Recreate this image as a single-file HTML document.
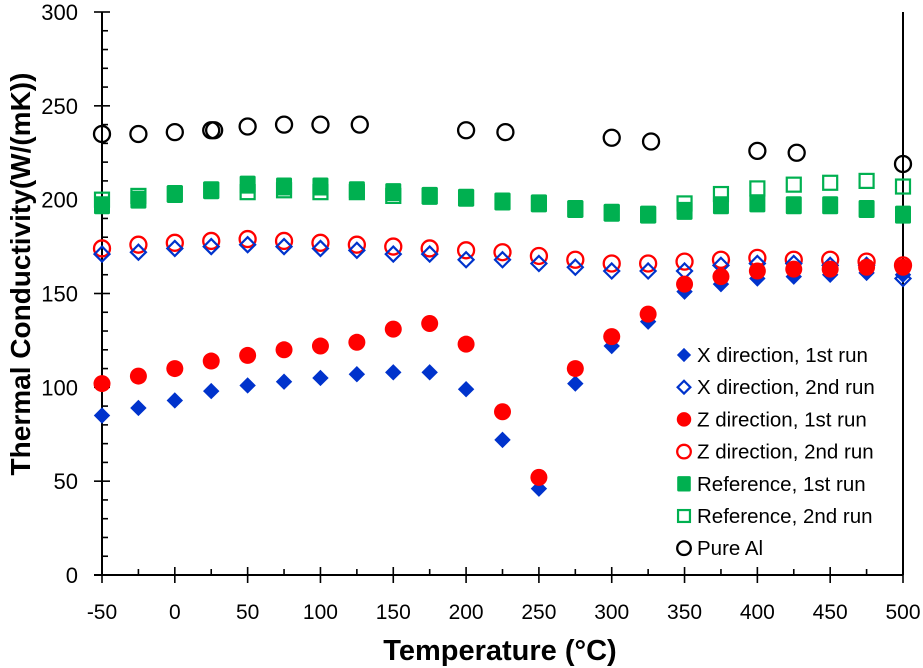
<!DOCTYPE html>
<html><head><meta charset="utf-8"><style>
body{margin:0;background:#fff;}
svg{display:block;font-family:"Liberation Sans",sans-serif;}
</style></head><body>
<svg id="chart" width="923" height="668"></svg>
<script>
const temps=[-50,-25,0,25,50,75,100,125,150,175,200,225,250,275,300,325,350,375,400,425,450,475,500];
const xRun1=[85,89,93,98,101,103,105,107,108,108,99,72,46,102,122,135,151,155,158,159,160,161,160];
const xRun2=[171,172,174,175,176,175,174,173,171,171,168,168,166,164,162,162,162,165,166,166,165,165,158];
const zRun1=[102,106,110,114,117,120,122,124,131,134,123,87,52,110,127,139,155,159,162,163,163,164,164];
const zRun2=[174,176,177,178,179,178,177,176,175,174,173,172,170,168,166,166,167,168,169,168,168,167,165];
const refRun1=[197,200,203,205,208,207,207,205,204,202,201,199,198,195,193,192,194,197,198,197,197,195,192];
const refRun2=[200,202,203,205,204,205,204,204,202,202,201,199,198,195,193,192,198,203,206,208,209,210,207];
const alTemps=[-50,-25,0,25,27,50,75,100,127,200,227,300,327,400,427,500];
const alVals=[235,235,236,237,237,239,240,240,240,237,236,233,231,226,225,219];
const xTicks=[-50,0,50,100,150,200,250,300,350,400,450,500];
const yTicks=[0,50,100,150,200,250,300];
const NS="http://www.w3.org/2000/svg";
const svg=document.getElementById('chart');
const X=v=>102+(v+50)*801/550;
const Y=v=>575-v*563/300;
function mk(t,a,p){const e=document.createElementNS(NS,t);for(const k in a)e.setAttribute(k,a[k]);(p||svg).appendChild(e);return e;}
let ax=mk('line',{x1:102,y1:12,x2:102,y2:575,stroke:'#000','stroke-width':2});


let ax2=mk('line',{x1:94,y1:575,x2:903,y2:575,stroke:'#000','stroke-width':2});


let rb=mk('line',{x1:903,y1:12,x2:903,y2:575,stroke:'#000','stroke-width':2});


for(let v=0;v<=300;v+=10){const y=Y(v);const maj=v%50===0;mk('line',{x1:maj?94:102,y1:y,x2:maj?110:108,y2:y,stroke:'#000','stroke-width':1.6});}
for(let v=-50;v<=500;v+=25){const x=X(v);const maj=v%50===0;mk('line',{x1:x,y1:maj?567:569,x2:x,y2:maj?583:575,stroke:'#000','stroke-width':1.6});}
yTicks.forEach(v=>{const t=mk('text',{x:78,y:Y(v)+8,'text-anchor':'end','font-size':22,fill:'#000'});t.textContent=v;

});
xTicks.forEach(v=>{const t=mk('text',{x:X(v),y:619,'text-anchor':'middle','font-size':21,fill:'#000'});t.textContent=v;

});
let xt=mk('text',{x:500,y:660,'text-anchor':'middle','font-size':29,'font-weight':'bold'});xt.textContent='Temperature (°C)';


let yt=mk('text',{x:0,y:0,'text-anchor':'middle','font-size':28,'font-weight':'bold',transform:'translate(30,274) rotate(-90)'});yt.textContent='Thermal Conductivity(W/(mK))';


function marker(kind,cx,cy,g,sc){sc=sc||1;
 if(kind==='dF'||kind==='dO'){const s=7.5*sc;return mk('polygon',{points:`${cx},${cy-s} ${cx+s},${cy} ${cx},${cy+s} ${cx-s},${cy}`,fill:kind==='dF'?'#0033cc':'none',stroke:'#0033cc','stroke-width':kind==='dF'?1:2.2},g);}
 if(kind==='cF')return mk('circle',{cx,cy,r:8.5*sc,fill:'#ff0000'},g);
 if(kind==='cO')return mk('circle',{cx,cy,r:8*sc,fill:'none',stroke:'#ff0000','stroke-width':2.3},g);
 if(kind==='cK')return mk('circle',{cx,cy,r:8*sc,fill:'none',stroke:'#000','stroke-width':2.3},g);
 if(kind==='sF')return mk('rect',{x:cx-8*sc,y:cy-9*sc,width:16*sc,height:18*sc,rx:1.5,fill:'#00b050'},g);
 if(kind==='sO')return mk('rect',{x:cx-7*sc,y:cy-7*sc,width:14*sc,height:14*sc,fill:'none',stroke:'#00b050','stroke-width':2.2},g);
}
function series(name,kind,xs,ys){const g=mk('g',{});
 xs.forEach((t,i)=>{const m=marker(kind,X(t),Y(ys[i]),g);
 
 });}
series('pure-al','cK',alTemps,alVals);
series('reference-2nd-run','sO',temps,refRun2);
series('reference-1st-run','sF',temps,refRun1);
series('z-2nd-run','cO',temps,zRun2);
series('x-2nd-run','dO',temps,xRun2);
series('x-1st-run','dF',temps,xRun1);
series('z-1st-run','cF',temps,zRun1);
const leg=[['dF','X direction, 1st run'],['dO','X direction, 2nd run'],['cF','Z direction, 1st run'],['cO','Z direction, 2nd run'],['sF','Reference, 1st run'],['sO','Reference, 2nd run'],['cK','Pure Al']];
const lg=mk('g',{});
leg.forEach((l,i)=>{const y=355+i*32.2;const e=mk('g',{},lg);
 
 
 marker(l[0],684,y,e,0.85);const t=mk('text',{x:697,y:y+7,'font-size':20.5,fill:'#000'},e);t.textContent=l[1];});
</script>
</body></html>
